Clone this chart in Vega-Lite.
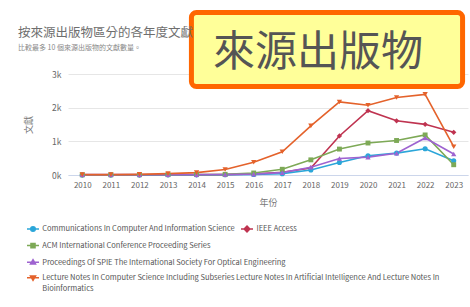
{
  "$schema": "https://vega.github.io/schema/vega-lite/v6.json",
  "width": 400,
  "height": 101,
  "autosize": "none",
  "padding": {"left": 68, "top": 74, "right": 2, "bottom": 132},
  "background": "white",
  "config": {"view": {"stroke": null}, "font": "Noto Sans CJK TC"},
  "title": {
    "text": "按來源出版物區分的各年度文獻",
    "subtitle": "比較最多 10 個來源出版物的文獻數量。",
    "anchor": "start",
    "frame": "group",
    "dx": -50,
    "offset": -41,
    "font": "Noto Sans CJK TC",
    "fontSize": 12.5,
    "fontWeight": "normal",
    "color": "#6e6e6e",
    "subtitleFont": "Noto Sans CJK TC",
    "subtitleFontSize": 7,
    "subtitleColor": "#888888",
    "subtitlePadding": 4.5
  },
  "datasets": {
    "pubs": [
      {"series": "Communications In Computer And Information Science", "year": 2010, "docs": 2},
      {"series": "Communications In Computer And Information Science", "year": 2011, "docs": 3},
      {"series": "Communications In Computer And Information Science", "year": 2012, "docs": 3},
      {"series": "Communications In Computer And Information Science", "year": 2013, "docs": 5},
      {"series": "Communications In Computer And Information Science", "year": 2014, "docs": 5},
      {"series": "Communications In Computer And Information Science", "year": 2015, "docs": 8},
      {"series": "Communications In Computer And Information Science", "year": 2016, "docs": 15},
      {"series": "Communications In Computer And Information Science", "year": 2017, "docs": 40},
      {"series": "Communications In Computer And Information Science", "year": 2018, "docs": 150},
      {"series": "Communications In Computer And Information Science", "year": 2019, "docs": 370},
      {"series": "Communications In Computer And Information Science", "year": 2020, "docs": 570},
      {"series": "Communications In Computer And Information Science", "year": 2021, "docs": 650},
      {"series": "Communications In Computer And Information Science", "year": 2022, "docs": 780},
      {"series": "Communications In Computer And Information Science", "year": 2023, "docs": 425},
      {"series": "IEEE Access", "year": 2010, "docs": 0},
      {"series": "IEEE Access", "year": 2011, "docs": 0},
      {"series": "IEEE Access", "year": 2012, "docs": 0},
      {"series": "IEEE Access", "year": 2013, "docs": 2},
      {"series": "IEEE Access", "year": 2014, "docs": 5},
      {"series": "IEEE Access", "year": 2015, "docs": 10},
      {"series": "IEEE Access", "year": 2016, "docs": 30},
      {"series": "IEEE Access", "year": 2017, "docs": 80},
      {"series": "IEEE Access", "year": 2018, "docs": 210},
      {"series": "IEEE Access", "year": 2019, "docs": 1160},
      {"series": "IEEE Access", "year": 2020, "docs": 1910},
      {"series": "IEEE Access", "year": 2021, "docs": 1610},
      {"series": "IEEE Access", "year": 2022, "docs": 1505},
      {"series": "IEEE Access", "year": 2023, "docs": 1268},
      {"series": "ACM International Conference Proceeding Series", "year": 2010, "docs": 5},
      {"series": "ACM International Conference Proceeding Series", "year": 2011, "docs": 5},
      {"series": "ACM International Conference Proceeding Series", "year": 2012, "docs": 8},
      {"series": "ACM International Conference Proceeding Series", "year": 2013, "docs": 10},
      {"series": "ACM International Conference Proceeding Series", "year": 2014, "docs": 12},
      {"series": "ACM International Conference Proceeding Series", "year": 2015, "docs": 20},
      {"series": "ACM International Conference Proceeding Series", "year": 2016, "docs": 60},
      {"series": "ACM International Conference Proceeding Series", "year": 2017, "docs": 170},
      {"series": "ACM International Conference Proceeding Series", "year": 2018, "docs": 450},
      {"series": "ACM International Conference Proceeding Series", "year": 2019, "docs": 770},
      {"series": "ACM International Conference Proceeding Series", "year": 2020, "docs": 950},
      {"series": "ACM International Conference Proceeding Series", "year": 2021, "docs": 1025},
      {"series": "ACM International Conference Proceeding Series", "year": 2022, "docs": 1190},
      {"series": "ACM International Conference Proceeding Series", "year": 2023, "docs": 305},
      {"series": "Proceedings Of SPIE The International Society For Optical Engineering", "year": 2010, "docs": 10},
      {"series": "Proceedings Of SPIE The International Society For Optical Engineering", "year": 2011, "docs": 10},
      {"series": "Proceedings Of SPIE The International Society For Optical Engineering", "year": 2012, "docs": 12},
      {"series": "Proceedings Of SPIE The International Society For Optical Engineering", "year": 2013, "docs": 12},
      {"series": "Proceedings Of SPIE The International Society For Optical Engineering", "year": 2014, "docs": 12},
      {"series": "Proceedings Of SPIE The International Society For Optical Engineering", "year": 2015, "docs": 15},
      {"series": "Proceedings Of SPIE The International Society For Optical Engineering", "year": 2016, "docs": 25},
      {"series": "Proceedings Of SPIE The International Society For Optical Engineering", "year": 2017, "docs": 70},
      {"series": "Proceedings Of SPIE The International Society For Optical Engineering", "year": 2018, "docs": 230},
      {"series": "Proceedings Of SPIE The International Society For Optical Engineering", "year": 2019, "docs": 490},
      {"series": "Proceedings Of SPIE The International Society For Optical Engineering", "year": 2020, "docs": 530},
      {"series": "Proceedings Of SPIE The International Society For Optical Engineering", "year": 2021, "docs": 645},
      {"series": "Proceedings Of SPIE The International Society For Optical Engineering", "year": 2022, "docs": 1100},
      {"series": "Proceedings Of SPIE The International Society For Optical Engineering", "year": 2023, "docs": 624},
      {"series": "Lecture Notes In Computer Science Including Subseries Lecture Notes In Artificial Intelligence And Lecture Notes In Bioinformatics", "year": 2010, "docs": 10},
      {"series": "Lecture Notes In Computer Science Including Subseries Lecture Notes In Artificial Intelligence And Lecture Notes In Bioinformatics", "year": 2011, "docs": 12},
      {"series": "Lecture Notes In Computer Science Including Subseries Lecture Notes In Artificial Intelligence And Lecture Notes In Bioinformatics", "year": 2012, "docs": 20},
      {"series": "Lecture Notes In Computer Science Including Subseries Lecture Notes In Artificial Intelligence And Lecture Notes In Bioinformatics", "year": 2013, "docs": 40},
      {"series": "Lecture Notes In Computer Science Including Subseries Lecture Notes In Artificial Intelligence And Lecture Notes In Bioinformatics", "year": 2014, "docs": 70},
      {"series": "Lecture Notes In Computer Science Including Subseries Lecture Notes In Artificial Intelligence And Lecture Notes In Bioinformatics", "year": 2015, "docs": 165},
      {"series": "Lecture Notes In Computer Science Including Subseries Lecture Notes In Artificial Intelligence And Lecture Notes In Bioinformatics", "year": 2016, "docs": 380},
      {"series": "Lecture Notes In Computer Science Including Subseries Lecture Notes In Artificial Intelligence And Lecture Notes In Bioinformatics", "year": 2017, "docs": 690},
      {"series": "Lecture Notes In Computer Science Including Subseries Lecture Notes In Artificial Intelligence And Lecture Notes In Bioinformatics", "year": 2018, "docs": 1460},
      {"series": "Lecture Notes In Computer Science Including Subseries Lecture Notes In Artificial Intelligence And Lecture Notes In Bioinformatics", "year": 2019, "docs": 2170},
      {"series": "Lecture Notes In Computer Science Including Subseries Lecture Notes In Artificial Intelligence And Lecture Notes In Bioinformatics", "year": 2020, "docs": 2070},
      {"series": "Lecture Notes In Computer Science Including Subseries Lecture Notes In Artificial Intelligence And Lecture Notes In Bioinformatics", "year": 2021, "docs": 2300},
      {"series": "Lecture Notes In Computer Science Including Subseries Lecture Notes In Artificial Intelligence And Lecture Notes In Bioinformatics", "year": 2022, "docs": 2395},
      {"series": "Lecture Notes In Computer Science Including Subseries Lecture Notes In Artificial Intelligence And Lecture Notes In Bioinformatics", "year": 2023, "docs": 840}
    ],
    "notes": [{"note": "來源出版物"}]
  },
  "layer": [
    {
      "data": {"name": "pubs"},
      "transform": [{"filter": "datum.series === 'IEEE Access'"}],
      "encoding": {
        "x": {
          "field": "year", "type": "quantitative",
          "scale": {"domain": [2009.5, 2023.5], "nice": false, "zero": false},
          "axis": {
            "values": [2010, 2011, 2012, 2013, 2014, 2015, 2016, 2017, 2018, 2019, 2020, 2021, 2022, 2023],
            "format": "d", "grid": false, "ticks": false, "domainColor": "#ccd6eb", "domainWidth": 1,
            "labelPadding": 6, "labelFontSize": 8, "labelColor": "#666666", "labelFlush": false, "labelOverlap": false, "labelBound": false,
            "title": "年份", "titleFont": "Noto Sans CJK TC", "titleFontSize": 9, "titleFontWeight": "normal", "titleColor": "#777777", "titlePadding": 9
          }
        },
        "y": {
          "field": "docs", "type": "quantitative",
          "scale": {"domain": [0, 3000], "nice": false},
          "axis": {
            "values": [0, 1000, 2000, 3000], "format": "~s", "grid": true, "gridColor": "#e6e6e6", "domain": false, "ticks": false,
            "labelPadding": 7, "labelFontSize": 8.5, "labelColor": "#666666",
            "title": "文獻", "titleFont": "Noto Sans CJK TC", "titleFontSize": 9, "titleFontWeight": "normal", "titleColor": "#777777", "titlePadding": 18
          }
        },
        "color": {"field": "series", "type": "nominal", "scale": {"domain": ["IEEE Access"], "range": ["#bf3350"]}}
      },
      "layer": [
        {
          "mark": {"type": "line", "strokeWidth": 1.6},
          "encoding": {
            "color": {
              "field": "series", "type": "nominal",
              "scale": {"domain": ["IEEE Access"], "range": ["#bf3350"]},
              "legend": {
                "orient": "none", "legendX": 172, "legendY": 148, "title": null, "padding": 0,
                "symbolSize": 144, "labelFont": "Noto Sans CJK TC", "labelFontSize": 7.5, "labelColor": "#555555",
                "labelOffset": 2.5, "labelBaseline": "top", "labelLimit": 460,
                "encode": {
                  "labels": {"update": {"dy": {"value": -3.6}}},
                  "symbols": {"update": {
                    "shape": {"value": "M-1,0H1M0,-0.48L0.48,0L0,0.48L-0.48,0Z"},
                    "strokeWidth": {"value": 1.5}
                  }}
                }
              }
            }
          }
        },
        {"mark": {"type": "point", "shape": "diamond", "filled": true, "size": 28, "opacity": 1}}
      ]
    },
    {
      "data": {"name": "pubs"},
      "transform": [{"filter": "datum.series !== 'IEEE Access'"}],
      "encoding": {
        "x": {
          "field": "year", "type": "quantitative",
          "scale": {"domain": [2009.5, 2023.5], "nice": false, "zero": false},
          "axis": {
            "values": [2010, 2011, 2012, 2013, 2014, 2015, 2016, 2017, 2018, 2019, 2020, 2021, 2022, 2023],
            "format": "d", "grid": false, "ticks": false, "domainColor": "#ccd6eb", "domainWidth": 1,
            "labelPadding": 6, "labelFontSize": 8, "labelColor": "#666666", "labelFlush": false, "labelOverlap": false, "labelBound": false,
            "title": "年份", "titleFont": "Noto Sans CJK TC", "titleFontSize": 9, "titleFontWeight": "normal", "titleColor": "#777777", "titlePadding": 9
          }
        },
        "y": {
          "field": "docs", "type": "quantitative",
          "scale": {"domain": [0, 3000], "nice": false},
          "axis": {
            "values": [0, 1000, 2000, 3000], "format": "~s", "grid": true, "gridColor": "#e6e6e6", "domain": false, "ticks": false,
            "labelPadding": 7, "labelFontSize": 8.5, "labelColor": "#666666",
            "title": "文獻", "titleFont": "Noto Sans CJK TC", "titleFontSize": 9, "titleFontWeight": "normal", "titleColor": "#777777", "titlePadding": 18
          }
        },
        "color": {
          "field": "series", "type": "nominal",
          "scale": {
            "domain": ["Communications In Computer And Information Science", "ACM International Conference Proceeding Series", "Proceedings Of SPIE The International Society For Optical Engineering", "Lecture Notes In Computer Science Including Subseries Lecture Notes In Artificial Intelligence And Lecture Notes In Bioinformatics"],
            "range": ["#2ba6d9", "#7da956", "#9e63d0", "#e4622b"]
          }
        }
      },
      "layer": [
        {
          "mark": {"type": "line", "strokeWidth": 1.6},
          "encoding": {
            "color": {
              "field": "series", "type": "nominal",
              "scale": {
                "domain": ["Communications In Computer And Information Science", "ACM International Conference Proceeding Series", "Proceedings Of SPIE The International Society For Optical Engineering", "Lecture Notes In Computer Science Including Subseries Lecture Notes In Artificial Intelligence And Lecture Notes In Bioinformatics"],
                "range": ["#2ba6d9", "#7da956", "#9e63d0", "#e4622b"]
              },
              "legend": {
                "orient": "none", "legendX": -42, "legendY": 148, "title": null, "padding": 0,
                "symbolSize": 144, "labelFont": "Noto Sans CJK TC", "labelFontSize": 7.5, "labelColor": "#555555",
                "labelOffset": 2.2, "labelBaseline": "top", "labelLimit": 460, "rowPadding": 3.6,
                "labelExpr": "datum.label === 'Lecture Notes In Computer Science Including Subseries Lecture Notes In Artificial Intelligence And Lecture Notes In Bioinformatics' ? ['Lecture Notes In Computer Science Including Subseries Lecture Notes In Artificial Intelligence And Lecture Notes In', 'Bioinformatics'] : datum.label",
                "encode": {
                  "labels": {"update": {"dy": {"value": -3.6}, "lineHeight": {"value": 10.7}}},
                  "symbols": {"update": {
                    "shape": {"signal": "datum.value === 'Communications In Computer And Information Science' ? 'M-1,0H1M0.38,0A0.38,0.38,0,1,1,-0.38,0A0.38,0.38,0,1,1,0.38,0Z' : datum.value === 'ACM International Conference Proceeding Series' ? 'M-1,0H1M-0.34,-0.34H0.34V0.34H-0.34Z' : datum.value === 'Proceedings Of SPIE The International Society For Optical Engineering' ? 'M-1,0H1M0,-0.42L0.42,0.3H-0.42Z' : 'M-1,0H1M0,0.42L0.42,-0.3H-0.42Z'"},
                    "strokeWidth": {"value": 1.5}
                  }}
                }
              }
            }
          }
        },
        {
          "transform": [{"filter": "datum.series === 'Communications In Computer And Information Science'"}],
          "mark": {"type": "point", "shape": "circle", "filled": true, "size": 26, "opacity": 1}
        },
        {
          "transform": [{"filter": "datum.series === 'ACM International Conference Proceeding Series'"}],
          "mark": {"type": "point", "shape": "square", "filled": true, "size": 24, "opacity": 1}
        },
        {
          "transform": [{"filter": "datum.series === 'Proceedings Of SPIE The International Society For Optical Engineering'"}],
          "mark": {"type": "point", "shape": "triangle-up", "filled": true, "size": 28, "opacity": 1}
        },
        {
          "transform": [{"filter": "datum.series === 'Lecture Notes In Computer Science Including Subseries Lecture Notes In Artificial Intelligence And Lecture Notes In Bioinformatics'"}],
          "mark": {"type": "point", "shape": "triangle-down", "filled": true, "size": 28, "opacity": 1}
        }
      ]
    },
    {
      "data": {"name": "notes"},
      "mark": {"type": "rect", "fill": "#ffff99", "stroke": "#ff6600", "strokeWidth": 5, "cornerRadius": 5},
      "encoding": {
        "x": {"datum": 2013.82, "type": "quantitative", "axis": {
            "values": [2010, 2011, 2012, 2013, 2014, 2015, 2016, 2017, 2018, 2019, 2020, 2021, 2022, 2023],
            "format": "d", "grid": false, "ticks": false, "domainColor": "#ccd6eb", "domainWidth": 1,
            "labelPadding": 6, "labelFontSize": 8, "labelColor": "#666666", "labelFlush": false, "labelOverlap": false, "labelBound": false,
            "title": "年份", "titleFont": "Noto Sans CJK TC", "titleFontSize": 9, "titleFontWeight": "normal", "titleColor": "#777777", "titlePadding": 9
          }},
        "x2": {"datum": 2023.31},
        "y": {"datum": 4826, "type": "quantitative", "axis": {
            "values": [0, 1000, 2000, 3000], "format": "~s", "grid": true, "gridColor": "#e6e6e6", "domain": false, "ticks": false,
            "labelPadding": 7, "labelFontSize": 8.5, "labelColor": "#666666",
            "title": "文獻", "titleFont": "Noto Sans CJK TC", "titleFontSize": 9, "titleFontWeight": "normal", "titleColor": "#777777", "titlePadding": 18
          }},
        "y2": {"datum": 2629}
      }
    },
    {
      "data": {"name": "notes"},
      "mark": {"type": "text", "font": "Noto Sans CJK TC", "fontSize": 42, "color": "#555555", "align": "left", "baseline": "middle"},
      "encoding": {
        "text": {"field": "note", "type": "nominal"},
        "x": {"datum": 2014.575, "type": "quantitative", "axis": {
            "values": [2010, 2011, 2012, 2013, 2014, 2015, 2016, 2017, 2018, 2019, 2020, 2021, 2022, 2023],
            "format": "d", "grid": false, "ticks": false, "domainColor": "#ccd6eb", "domainWidth": 1,
            "labelPadding": 6, "labelFontSize": 8, "labelColor": "#666666", "labelFlush": false, "labelOverlap": false, "labelBound": false,
            "title": "年份", "titleFont": "Noto Sans CJK TC", "titleFontSize": 9, "titleFontWeight": "normal", "titleColor": "#777777", "titlePadding": 9
          }},
        "y": {"datum": 3630, "type": "quantitative", "axis": {
            "values": [0, 1000, 2000, 3000], "format": "~s", "grid": true, "gridColor": "#e6e6e6", "domain": false, "ticks": false,
            "labelPadding": 7, "labelFontSize": 8.5, "labelColor": "#666666",
            "title": "文獻", "titleFont": "Noto Sans CJK TC", "titleFontSize": 9, "titleFontWeight": "normal", "titleColor": "#777777", "titlePadding": 18
          }}
      }
    }
  ],
  "resolve": {"scale": {"color": "independent"}}
}
